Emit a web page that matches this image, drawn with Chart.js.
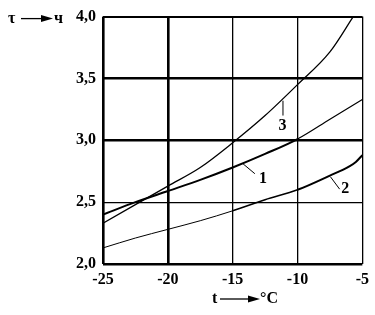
<!DOCTYPE html>
<html>
<head>
<meta charset="utf-8">
<script src="https://cdn.jsdelivr.net/npm/chart.js@4"></script>
<style>
body { margin: 0; background: #fff; }
</style>
</head>
<body>
<canvas id="myChart" width="375" height="315"></canvas>
<script>
// Werte
const temp1 = [-25, -22.5, -20, -17.5, -15, -12.5, -10, -7.5, -5];
const curve1 = [2.40, 2.50, 2.59, 2.68, 2.78, 2.89, 3.01, 3.17, 3.33];
const temp2 = [-25, -22.5, -20, -17.5, -15, -12.5, -10, -7.5, -6, -5.5, -5];
const curve2 = [2.13, 2.21, 2.28, 2.35, 2.43, 2.52, 2.60, 2.715, 2.79, 2.825, 2.88];
const temp3 = [-25, -22.5, -20, -17.5, -15, -12.5, -10, -7.5, -5.7];
const curve3 = [2.33, 2.48, 2.63, 2.78, 2.98, 3.20, 3.45, 3.715, 4.0];

const curveNames = ['1', '2', '3'];
const labelX = [-12.66, -6.31, -11.16];
const labelY = [2.69, 2.61, 3.12];
const leaderFrom = [[-14.2, 2.81], [-7.46, 2.705], [-11.12, 3.32]];
const leaderTo = [[-13.29, 2.73], [-6.75, 2.605], [-11.12, 3.20]];

const xTicks = [-25, -20, -15, -10, -5];
const yTicks = [2.0, 2.5, 3.0, 3.5, 4.0];
const xTitle = ['t', '°C'];
const yTitle = ['τ', 'ч'];

const font = 'bold 16px "Liberation Serif"';

function toPoints(xs, ys) {
return xs.map((x, i) => ({ x: x, y: ys[i] }));
}

function drawArrow(ctx, x1, x2, y) {
ctx.save();
ctx.strokeStyle = '#000';
ctx.fillStyle = '#000';
ctx.lineWidth = 1.3;
ctx.beginPath();
ctx.moveTo(x1, y);
ctx.lineTo(x2 - 11, y);
ctx.stroke();
ctx.beginPath();
ctx.moveTo(x2 - 12, y - 3.5);
ctx.lineTo(x2, y);
ctx.lineTo(x2 - 12, y + 3.5);
ctx.closePath();
ctx.fill();
ctx.restore();
}

// Beschriftungen der Kurven und Achsen
const annotations = {
id: 'annotations',
afterDatasetsDraw(chart) {
const ctx = chart.ctx;
const xs = chart.scales.x;
const ys = chart.scales.y;
ctx.save();
ctx.strokeStyle = '#000';
ctx.fillStyle = '#000';
ctx.lineWidth = 1;
for (let i = 0; i < curveNames.length; i++) {
ctx.beginPath();
ctx.moveTo(xs.getPixelForValue(leaderFrom[i][0]), ys.getPixelForValue(leaderFrom[i][1]));
ctx.lineTo(xs.getPixelForValue(leaderTo[i][0]), ys.getPixelForValue(leaderTo[i][1]));
ctx.stroke();
}
ctx.font = font;
ctx.textAlign = 'center';
ctx.textBaseline = 'middle';
for (let i = 0; i < curveNames.length; i++) {
ctx.fillText(curveNames[i], xs.getPixelForValue(labelX[i]), ys.getPixelForValue(labelY[i]));
}
// Achsentitel
const area = chart.chartArea;
ctx.textAlign = 'left';
const ty = area.top + 2;
ctx.fillText(yTitle[0], 8, ty);
drawArrow(ctx, 21, 53, ty);
ctx.fillText(yTitle[1], 54, ty);
const bx = 212;
const by = area.bottom + 35;
ctx.fillText(xTitle[0], bx, by);
drawArrow(ctx, bx + 8, bx + 48, by);
ctx.fillText(xTitle[1], bx + 48, by);
ctx.restore();
}
};

const config = {
type: 'line',
data: {
datasets: [{
label: curveNames[0],
data: toPoints(temp1, curve1),
borderColor: '#000',
borderWidth: 2,
segment: {
borderWidth: c => c.p0.parsed.x >= -10 ? 1.2 : 2
}
}, {
label: curveNames[1],
data: toPoints(temp2, curve2),
borderColor: '#000',
borderWidth: 1.2,
segment: {
borderWidth: c => c.p0.parsed.x >= -10 ? 2 : (c.p0.parsed.x >= -15 ? 1.5 : 1)
}
}, {
label: curveNames[2],
data: toPoints(temp3, curve3),
borderColor: '#000',
borderWidth: 1.3
}]
},
options: {
responsive: false,
animation: false,
elements: {
point: { radius: 0 },
line: { cubicInterpolationMode: 'monotone' }
},
layout: {
padding: { top: 15, right: 12, left: 0, bottom: 0 }
},
scales: {
x: {
type: 'linear',
min: -25,
max: -5,
afterFit: s => { s.height = 51; },
afterBuildTicks: s => { s.ticks = xTicks.map(v => ({ value: v })); },
border: { display: false },
grid: {
color: '#000',
drawTicks: false,
lineWidth: c => {
const v = c.tick ? c.tick.value : 0;
if (v === -25 || v === -20) return 2.6;
return 1.3;
}
},
ticks: {
color: '#000',
font: { family: 'Liberation Serif', size: 16, weight: 'bold' },
padding: 6,
maxRotation: 0,
callback: v => String(v)
}
},
y: {
type: 'linear',
min: 2,
max: 4,
afterFit: s => { s.width = 103; },
afterBuildTicks: s => { s.ticks = yTicks.map(v => ({ value: v })); },
border: { display: false },
grid: {
color: '#000',
drawTicks: false,
lineWidth: c => {
const v = c.tick ? c.tick.value : 0;
if (v === 2.5) return 1.2;
if (v === 4) return 2;
return 2.4;
}
},
ticks: {
color: '#000',
font: { family: 'Liberation Serif', size: 16, weight: 'bold' },
padding: 7,
callback: v => v.toFixed(1).replace('.', ',')
}
}
},
plugins: {
legend: { display: false },
tooltip: { enabled: false }
}
},
plugins: [annotations]
};

new Chart(document.getElementById('myChart'), config);
</script>
</body>
</html>
